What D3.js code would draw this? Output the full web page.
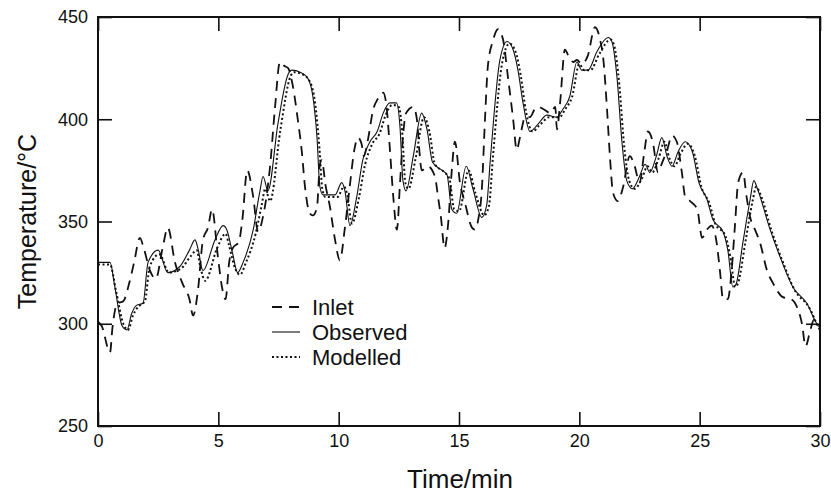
<!DOCTYPE html>
<html><head><meta charset="utf-8">
<script src="https://cdn.jsdelivr.net/npm/d3@7"></script>
<style>
html,body{margin:0;padding:0;background:#fff;}
text{font-family:"Liberation Sans",Arial,Helvetica,sans-serif;fill:#111;}
</style></head>
<body>
<svg id="chart" width="831" height="494"></svg>
<script>
// ---- data ----
const xTicks = [0, 5, 10, 15, 20, 25, 30];
const yTicks = [250, 300, 350, 400, 450];
const seriesNames = ["Inlet", "Observed", "Modelled"];

const inletTime = [0,0.15,0.5,0.6,0.8,1.05,1.3,1.5,1.74,1.9,2.16,2.4,2.7,2.9,3.2,3.5,3.8,3.95,4.15,4.36,4.57,4.74,4.98,5.15,5.3,5.45,5.6,5.85,6.0,6.2,6.45,6.65,6.85,7.15,7.35,7.56,7.75,7.9,8.1,8.3,8.47,8.6,8.8,8.93,9.1,9.22,9.3,9.45,9.64,9.85,10.05,10.26,10.45,10.65,10.8,10.95,11.05,11.2,11.44,11.63,11.85,12.0,12.13,12.27,12.42,12.55,12.67,12.8,13.1,13.25,13.35,13.45,13.7,14.0,14.13,14.25,14.4,14.55,14.7,14.83,15.04,15.25,15.54,15.66,15.8,15.95,16.08,16.2,16.4,16.62,16.83,17.03,17.25,17.4,17.53,17.75,17.95,18.15,18.3,18.5,18.8,19.0,19.07,19.2,19.4,19.55,19.75,19.9,20.1,20.35,20.65,20.86,21.0,21.15,21.27,21.4,21.6,21.8,22.1,22.3,22.5,22.7,22.85,23.05,23.27,23.45,23.65,23.85,24.05,24.26,24.4,24.6,24.9,25.1,25.3,25.5,25.7,25.85,25.97,26.17,26.32,26.46,26.6,26.8,26.95,27.1,27.3,27.5,27.8,28.04,28.46,28.8,29.05,29.25,29.4,29.6,29.75,29.9,30];
const inletTemp = [301,299,286,298,310,311,320,330,342,337,326,322,338,347,330,320,312,304,316,341,347,356,333,318,312,330,337,340,351,375,362,345,352,377,405,428,426,425,416,400,384,367,354,353,357,378,380,368,357,341,331,347,366,385,391,388,382,389,405,410,413,405,385,362,346,369,391,403,406,400,385,375,377,372,362,352,337,349,375,389,369,359,347,346,351,366,400,426,438,444,439,421,400,385,391,401,401,405,406,405,403,406,395,408,434,431,428,429,427,431,445,439,429,405,382,364,360,366,382,377,369,384,394,389,374,379,385,392,389,374,362,360,356,342,346,348,340,325,312,312,325,347,369,374,362,352,346,340,326,320,313,312,308,300,289,297,302,301,300];

const obsTime = [0,0.5,0.7,1.0,1.2,1.4,1.6,1.87,2.08,2.5,2.9,3.4,3.8,4.03,4.15,4.36,4.86,5.2,5.35,5.6,5.8,6.03,6.45,6.73,6.86,7.06,7.48,7.9,8.06,8.4,8.72,8.93,9.1,9.22,9.35,9.85,10.13,10.26,10.47,10.75,11.0,11.3,11.6,11.85,12.13,12.4,12.55,12.67,12.8,13.1,13.45,13.67,13.9,14.3,14.5,14.7,14.9,15.3,15.58,15.95,16.15,16.3,16.7,17.0,17.25,17.45,17.66,17.95,18.24,18.65,19.07,19.32,19.6,19.9,20.1,20.36,20.73,21.2,21.35,21.56,21.77,21.97,22.2,22.5,22.73,22.93,23.2,23.43,23.64,23.85,24.1,24.4,24.7,24.97,25.3,25.55,25.97,26.17,26.38,26.5,26.8,27.1,27.25,27.4,27.9,28.33,28.87,29.45,29.87,30];
const obsTemp = [330,330,318,299,297,305,309,310,330,336,325,328,336,341,337,326,341,348,346,334,325,330,346,365,372,365,398,422,424,423,420,411,391,367,363,363,369,365,348,362,380,389,394,403,408,408,396,370,365,382,403,395,379,375,373,356,354,377,366,352,358,380,429,438,434,424,408,394,397,402,401,405,411,428,424,424,433,440,438,421,389,370,366,372,378,374,382,391,382,377,384,389,384,369,361,351,345,336,318,319,340,361,370,366,347,333,318,310,300,298];

const modTime = [0,0.5,0.75,1.05,1.25,1.45,1.65,1.95,2.15,2.55,2.95,3.45,3.85,4.1,4.25,4.45,4.95,5.3,5.45,5.7,5.9,6.15,6.55,6.8,6.95,7.15,7.58,8.0,8.15,8.5,8.82,9.02,9.2,9.32,9.45,9.95,10.22,10.36,10.55,10.85,11.1,11.4,11.7,11.95,12.23,12.5,12.65,12.77,12.9,13.2,13.55,13.77,14.0,14.4,14.6,14.8,15.0,15.4,15.68,16.05,16.25,16.4,16.8,17.1,17.35,17.57,17.78,18.05,18.34,18.75,19.17,19.42,19.7,20.0,20.2,20.46,20.83,21.3,21.45,21.66,21.87,22.07,22.3,22.6,22.83,23.03,23.3,23.53,23.74,23.95,24.2,24.5,24.8,25.07,25.4,25.65,26.07,26.27,26.48,26.6,26.9,27.2,27.35,27.5,28.0,28.43,28.97,29.55,29.95,30];
const modTemp = [329,329,316,300,297,304,308,311,328,334,325,327,333,336,328,321,337,344,338,327,324,330,344,358,366,360,395,421,423,422,418,408,386,366,362,362,367,363,349,362,378,388,393,402,407,406,392,369,366,381,401,394,378,374,371,356,355,375,364,353,358,380,428,437,433,421,404,394,397,401,401,405,411,427,424,424,432,439,436,417,386,370,366,371,377,374,381,389,381,377,383,388,382,367,359,349,343,333,318,320,340,360,367,364,345,331,316,308,298,297];

// ---- chart ----
const svg = d3.select("#chart");
const L = 98, R = 820, T = 17, B = 426;
const x = d3.scaleLinear().domain([0, 30]).range([L, R]);
const y = d3.scaleLinear().domain([250, 450]).range([B, T]);
const tickLen = 14;

const zip = (ts, vs) => ts.map((t, i) => ({t, v: vs[i]}));
const line = d3.line().x(d => x(d.t)).y(d => y(d.v)).curve(d3.curveMonotoneX);

const plot = svg.append("g");
plot.append("path").datum(zip(inletTime, inletTemp)).attr("d", line)
  .attr("fill", "none").attr("stroke", "#111").attr("stroke-width", 1.8).attr("stroke-dasharray", "10,7");
plot.append("path").datum(zip(modTime, modTemp)).attr("d", line)
  .attr("fill", "none").attr("stroke", "#111").attr("stroke-width", 2).attr("stroke-dasharray", "2,2.5");
plot.append("path").datum(zip(obsTime, obsTemp)).attr("d", line)
  .attr("fill", "none").attr("stroke", "#111").attr("stroke-width", 1.1);

// axes (ticks inward on all sides)
const axB = d3.axisBottom(x).tickValues(xTicks).tickSizeInner(-tickLen).tickSizeOuter(0).tickPadding(8);
const axT = d3.axisTop(x).tickValues(xTicks).tickSizeInner(-tickLen).tickSizeOuter(0).tickFormat("");
const axL = d3.axisLeft(y).tickValues(yTicks).tickSizeInner(-tickLen).tickSizeOuter(0).tickPadding(10);
const axR = d3.axisRight(y).tickValues(yTicks).tickSizeInner(-tickLen).tickSizeOuter(0).tickFormat("");

function style(g){
  g.select(".domain").remove();
  g.selectAll(".tick line").attr("stroke", "#111").attr("stroke-width", 1.6);
  g.selectAll(".tick text").attr("font-size", 18).attr("fill", "#111")
    .attr("font-family", "Liberation Sans, Arial, sans-serif");
}
svg.append("g").attr("transform", `translate(0,${B})`).call(axB).call(style);
svg.append("g").attr("transform", `translate(0,${T})`).call(axT).call(style);
svg.append("g").attr("transform", `translate(${L},0)`).call(axL).call(style);
svg.append("g").attr("transform", `translate(${R},0)`).call(axR).call(style);

svg.append("rect").attr("x", L).attr("y", T).attr("width", R - L).attr("height", B - T)
  .attr("fill", "none").attr("stroke", "#111").attr("stroke-width", 2);

// axis titles
svg.append("text").attr("x", (L + R) / 2 + 1).attr("y", 488).attr("text-anchor", "middle")
  .attr("font-size", 26).text("Time/min");
svg.append("text").attr("transform", `translate(36,${(T + B) / 2}) rotate(-90)`)
  .attr("text-anchor", "middle").attr("font-size", 25).text("Temperature/°C");

// legend
const legY = [307, 332, 357];
const dashes = ["10,7", null, "2,2.5"];
const widths = [1.8, 1.1, 2];
seriesNames.forEach((name, i) => {
  const l = svg.append("line").attr("x1", 272).attr("x2", 300).attr("y1", legY[i]).attr("y2", legY[i])
    .attr("stroke", "#111").attr("stroke-width", widths[i]);
  if (dashes[i]) l.attr("stroke-dasharray", dashes[i]);
  svg.append("text").attr("x", 312).attr("y", legY[i] + 8).attr("font-size", 22).text(name);
});
</script>
</body></html>
